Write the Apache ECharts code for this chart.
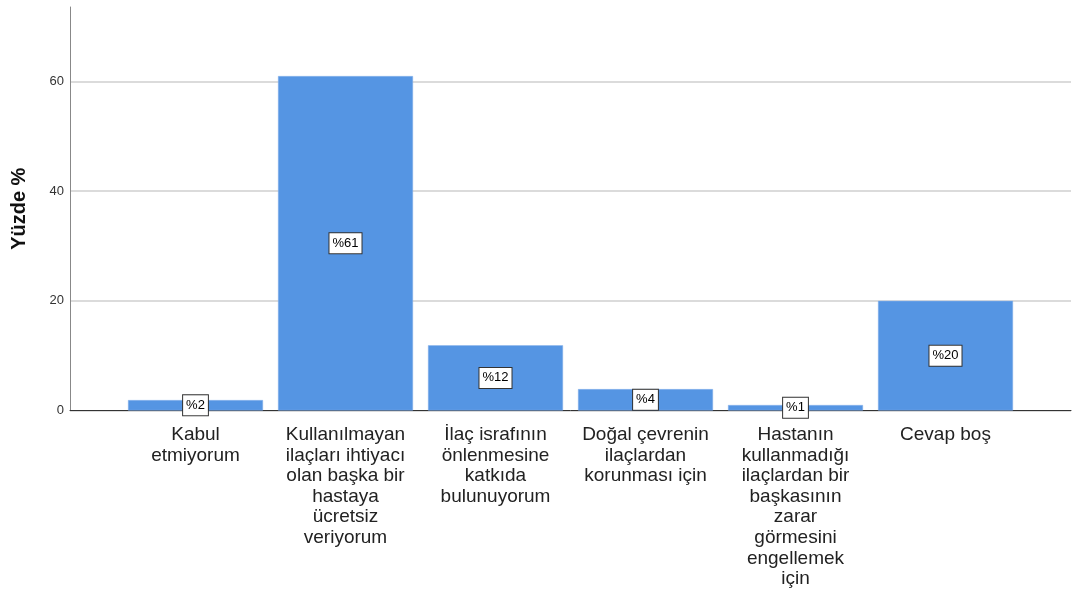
<!DOCTYPE html>
<html>
<head>
<meta charset="utf-8">
<script src="https://cdn.jsdelivr.net/npm/echarts@6/dist/echarts.min.js"></script>
<style>
  html, body { margin: 0; padding: 0; background: #fff; }
  #chart { width: 1073px; height: 590px; }
</style>
</head>
<body>
<div id="chart"></div>
<script>
const categories = [
  'Kabul\netmiyorum',
  'Kullanılmayan\nilaçları ihtiyacı\nolan başka bir\nhastaya\nücretsiz\nveriyorum',
  'İlaç israfının\nönlenmesine\nkatkıda\nbulunuyorum',
  'Doğal çevrenin\nilaçlardan\nkorunması için',
  'Hastanın\nkullanmadığı\nilaçlardan bir\nbaşkasının\nzarar\ngörmesini\nengellemek\niçin',
  'Cevap boş'
];
const values = [1.9, 61.0, 11.9, 3.9, 1.0, 20.0];
const yTicks = [0, 20, 40, 60];
const yTop = 73.6;

const font = '"Liberation Sans", Arial, sans-serif';
const chart = echarts.init(document.getElementById('chart'));

// grid 0: frame (y axis line + x axis line), grid 1: bars, grid 2: ticks + gridlines
const plotBottom = 179.5;
const plotTop = 7;
const pxPerUnit = (590 - plotBottom - plotTop) / yTop;
const tickTop = 590 - plotBottom - yTicks[yTicks.length - 1] * pxPerUnit;

const option = {
  animation: false,
  textStyle: { fontFamily: font },
  grid: [
    { left: 70, right: 2, top: plotTop, bottom: plotBottom },
    { left: 120.5, width: 900, top: plotTop, bottom: plotBottom },
    { left: 70, right: 2, top: tickTop, bottom: plotBottom }
  ],
  xAxis: [
    {
      gridIndex: 0, type: 'value', min: 0, max: 1,
      axisLine: { show: true, lineStyle: { color: '#333', width: 1 } },
      axisTick: { show: false }, axisLabel: { show: false }, splitLine: { show: false }
    },
    {
      gridIndex: 1, type: 'category', data: categories,
      axisLine: { show: false }, axisTick: { show: false },
      axisLabel: {
        interval: 0, margin: 14, fontSize: 19, lineHeight: 20.6,
        color: '#222', fontFamily: font, align: 'center'
      }
    },
    {
      gridIndex: 2, type: 'value', min: 0, max: 1, show: false
    }
  ],
  yAxis: [
    {
      gridIndex: 0, type: 'value', min: 0, max: yTop,
      name: 'Yüzde %', nameLocation: 'middle', nameGap: 41,
      nameTextStyle: { fontSize: 20, fontWeight: 'bold', color: '#111', fontFamily: font },
      axisLine: { show: true, lineStyle: { color: '#888', width: 1 } },
      axisTick: { show: false }, axisLabel: { show: false }, splitLine: { show: false }
    },
    {
      gridIndex: 1, type: 'value', min: 0, max: yTop, show: false
    },
    {
      gridIndex: 2, type: 'value', min: yTicks[0], max: yTicks[yTicks.length - 1], interval: 20,
      axisLine: { show: false }, axisTick: { show: false },
      axisLabel: { fontSize: 13, color: '#333', margin: 6, fontFamily: font },
      splitLine: { show: true, lineStyle: { color: '#cfcfcf', width: 1.5 } }
    }
  ],
  series: [
    {
      type: 'bar',
      xAxisIndex: 1, yAxisIndex: 1,
      data: values,
      barWidth: 135,
      itemStyle: { color: '#5595e3', borderColor: '#8ab4ea', borderWidth: 0.5 },
      label: {
        show: true,
        position: 'inside',
        formatter: p => '%' + Math.round(p.value),
        color: '#000',
        fontSize: 13,
        fontFamily: font,
        backgroundColor: '#fff',
        borderColor: '#333',
        borderWidth: 1,
        padding: [4, 3, 3, 3]
      }
    }
  ]
};
chart.setOption(option);
</script>
</body>
</html>
